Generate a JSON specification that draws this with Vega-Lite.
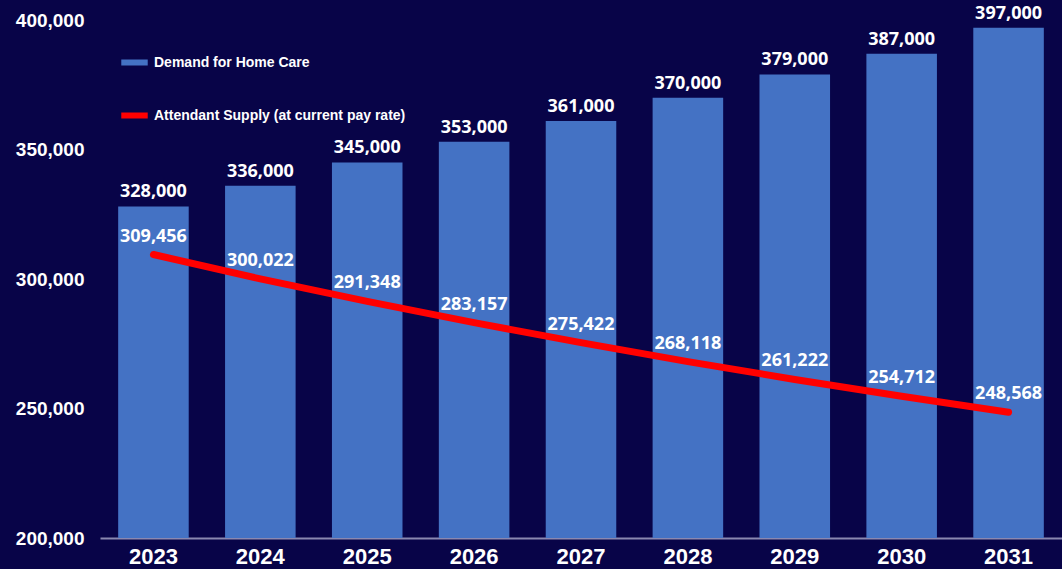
{
  "$schema": "https://vega.github.io/schema/vega-lite/v6.json",
  "width": 962,
  "height": 518,
  "autosize": {"type": "none"},
  "padding": {"left": 100, "top": 20, "right": 0, "bottom": 31},
  "background": "#080448",
  "config": {"view": {"stroke": null}, "font": "Liberation Sans"},
  "data": {
    "values": [
      {"year": "2023", "demand": 328000, "supply": 309456},
      {"year": "2024", "demand": 336000, "supply": 300022},
      {"year": "2025", "demand": 345000, "supply": 291348},
      {"year": "2026", "demand": 353000, "supply": 283157},
      {"year": "2027", "demand": 361000, "supply": 275422},
      {"year": "2028", "demand": 370000, "supply": 268118},
      {"year": "2029", "demand": 379000, "supply": 261222},
      {"year": "2030", "demand": 387000, "supply": 254712},
      {"year": "2031", "demand": 397000, "supply": 248568}
    ]
  },
  "encoding": {
    "x": {
      "field": "year",
      "type": "ordinal",
      "scale": {"paddingInner": 0.34, "paddingOuter": 0.17},
      "axis": {
        "title": null,
        "labelAngle": 0,
        "labelFontSize": 22,
        "labelFontWeight": "bold",
        "labelColor": "#ffffff",
        "ticks": false,
        "domainColor": "#8a88b0",
        "domainWidth": 2,
        "labelPadding": 8
      }
    }
  },
  "layer": [
    {
      "mark": {"type": "bar"},
      "encoding": {
        "y": {
          "field": "demand",
          "type": "quantitative",
          "scale": {"domain": [200000, 400000], "nice": false, "zero": false},
          "axis": {
            "title": null,
            "values": [200000, 250000, 300000, 350000, 400000],
            "format": ",.0f",
            "formatType": "number",
            "labelFontSize": 19,
            "labelFontWeight": "bold",
            "labelColor": "#ffffff",
            "domain": false,
            "ticks": false,
            "grid": false,
            "labelPadding": 16
          }
        },
        "y2": {"datum": 200000},
        "color": {
          "datum": "Demand for Home Care",
          "scale": {
            "domain": ["Demand for Home Care", "Attendant Supply (at current pay rate)"],
            "range": ["#4472C4", "#FF0000"]
          },
          "legend": {
            "title": null,
            "orient": "none",
            "legendX": 18,
            "legendY": 26,
            "direction": "vertical",
            "symbolType": "stroke",
            "symbolStrokeWidth": 6,
            "symbolSize": 700,
            "labelFontSize": 14,
            "labelFontWeight": "bold",
            "labelColor": "#ffffff",
            "labelLimit": 500,
            "rowPadding": 24,
            "labelOffset": 3
          }
        }
      }
    },
    {
      "mark": {"type": "text", "baseline": "bottom", "dy": -5, "font": "Open Sans", "fontWeight": "bold", "fontSize": 18, "color": "#ffffff"},
      "encoding": {
        "y": {"field": "demand", "type": "quantitative"},
        "text": {"field": "demand", "type": "quantitative", "format": ","}
      }
    },
    {
      "mark": {"type": "line", "strokeWidth": 7, "strokeCap": "round"},
      "encoding": {
        "y": {"field": "supply", "type": "quantitative"},
        "color": {"datum": "Attendant Supply (at current pay rate)"}
      }
    },
    {
      "mark": {"type": "text", "baseline": "middle", "dy": -18, "font": "Open Sans", "fontWeight": "bold", "fontSize": 18, "color": "#ffffff"},
      "encoding": {
        "y": {"field": "supply", "type": "quantitative"},
        "text": {"field": "supply", "type": "quantitative", "format": ","}
      }
    }
  ]
}
